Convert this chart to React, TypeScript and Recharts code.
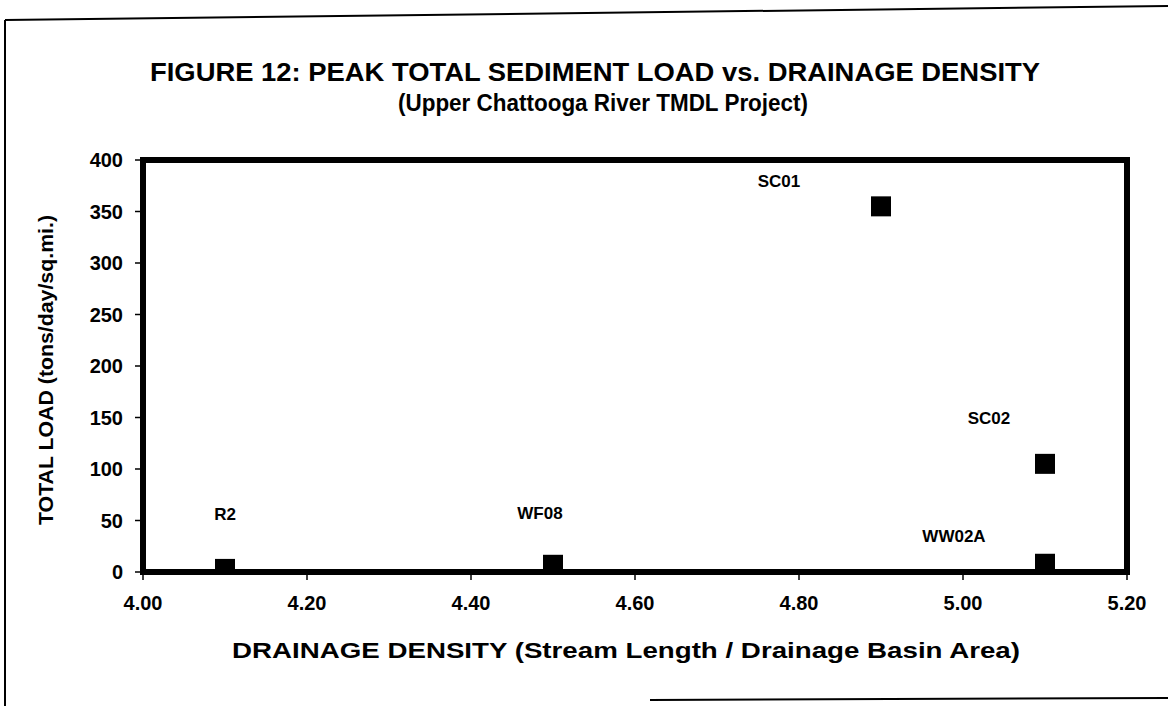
import React from 'react';
import {
  ScatterChart,
  Scatter,
  XAxis,
  YAxis,
  ReferenceArea,
  LabelList,
} from 'recharts';

// Sampling stations
const STATIONS = ['R2', 'WF08', 'SC01', 'SC02', 'WW02A'];
// Drainage density (stream length / basin area)
const DENSITY = [4.1, 4.5, 4.9, 5.1, 5.1];
// Peak total load (tons/day/sq.mi.)
const LOAD = [3, 7, 355, 105, 8];

const X_TICKS = [4.0, 4.2, 4.4, 4.6, 4.8, 5.0, 5.2];
const Y_TICKS = [0, 50, 100, 150, 200, 250, 300, 350, 400];

// where each station's label sits relative to its marker
const LABEL_OFFSET: Record<string, [number, number]> = {
  R2: [0, -54],
  WF08: [-13, -51],
  SC01: [-102, -25],
  SC02: [-56, -45],
  WW02A: [-91, -27],
};

const FONT = '"Liberation Sans", Arial, sans-serif';

const points = STATIONS.map((name, i) => ({ name, x: DENSITY[i], y: LOAD[i] }));

const SquareDot = (props: any) => {
  const { cx, cy } = props;
  if (cx == null || cy == null) return null;
  return <rect x={cx - 10} y={cy - 10} width={20} height={20} fill="#000" />;
};

const StationLabel = (props: any) => {
  const { x, y, width, height, value } = props;
  const [dx, dy] = LABEL_OFFSET[value] || [0, -30];
  const cx = x + width / 2 + dx;
  const cy = y + height / 2 + dy;
  return (
    <text
      x={cx}
      y={cy}
      textAnchor="middle"
      dominantBaseline="central"
      fontFamily={FONT}
      fontWeight="bold"
      fontSize={17}
      fill="#000"
    >
      {value}
    </text>
  );
};

export default function App() {
  const tickStyle = { fontFamily: FONT, fontWeight: 'bold', fontSize: 20, fill: '#000' };
  return (
    <div style={{ position: 'absolute', left: 0, top: 0, width: 1168, height: 706, background: '#fff', overflow: 'hidden' }}>
      <ScatterChart width={1168} height={706} margin={{ top: 160, right: 41, left: 63, bottom: 94 }}>
        <XAxis
          type="number"
          dataKey="x"
          domain={[4.0, 5.2]}
          ticks={X_TICKS}
          tickFormatter={(v: number) => v.toFixed(2)}
          axisLine={false}
          tickLine={{ stroke: '#000', strokeWidth: 1.5 }}
          tickSize={8}
          tickMargin={16}
          height={40}
          tick={tickStyle}
          allowDataOverflow
        />
        <YAxis
          type="number"
          dataKey="y"
          domain={[0, 400]}
          ticks={Y_TICKS}
          axisLine={false}
          tickLine={{ stroke: '#000', strokeWidth: 1.5 }}
          tickSize={8}
          tickMargin={12}
          width={80}
          tick={tickStyle}
          allowDataOverflow
        />
        <ReferenceArea
          x1={4.0}
          x2={5.2}
          y1={0}
          y2={400}
          fill="none"
          stroke="#000"
          strokeWidth={6}
          ifOverflow="visible"
        />
        <Scatter data={points} fill="#000" shape={<SquareDot />} isAnimationActive={false}>
          <LabelList dataKey="name" content={<StationLabel />} />
        </Scatter>
      </ScatterChart>
      <svg
        width={1168}
        height={706}
        style={{ position: 'absolute', left: 0, top: 0, pointerEvents: 'none' }}
      >
        {/* scanned page frame */}
        <line x1={5} y1={20} x2={1168} y2={6} stroke="#000" strokeWidth={2} />
        <line x1={5} y1={20} x2={5} y2={706} stroke="#000" strokeWidth={2} />
        <line x1={650} y1={700} x2={1168} y2={698} stroke="#000" strokeWidth={2} />

        <text
          x={595}
          y={72}
          textAnchor="middle"
          dominantBaseline="central"
          fontFamily={FONT}
          fontWeight="bold"
          fontSize={25}
          textLength={890}
          lengthAdjust="spacingAndGlyphs"
        >
          FIGURE 12: PEAK TOTAL SEDIMENT LOAD vs. DRAINAGE DENSITY
        </text>
        <text
          x={603}
          y={103}
          textAnchor="middle"
          dominantBaseline="central"
          fontFamily={FONT}
          fontWeight="bold"
          fontSize={23}
          textLength={410}
          lengthAdjust="spacingAndGlyphs"
        >
          (Upper Chattooga River TMDL Project)
        </text>
        <text
          x={626}
          y={650}
          textAnchor="middle"
          dominantBaseline="central"
          fontFamily={FONT}
          fontWeight="bold"
          fontSize={22}
          textLength={788}
          lengthAdjust="spacingAndGlyphs"
        >
          DRAINAGE DENSITY (Stream Length / Drainage Basin Area)
        </text>
        <text
          x={45}
          y={370}
          textAnchor="middle"
          dominantBaseline="central"
          fontFamily={FONT}
          fontWeight="bold"
          fontSize={21}
          textLength={310}
          lengthAdjust="spacingAndGlyphs"
          transform="rotate(-90 45 370)"
        >
          TOTAL LOAD (tons/day/sq.mi.)
        </text>
      </svg>
    </div>
  );
}
